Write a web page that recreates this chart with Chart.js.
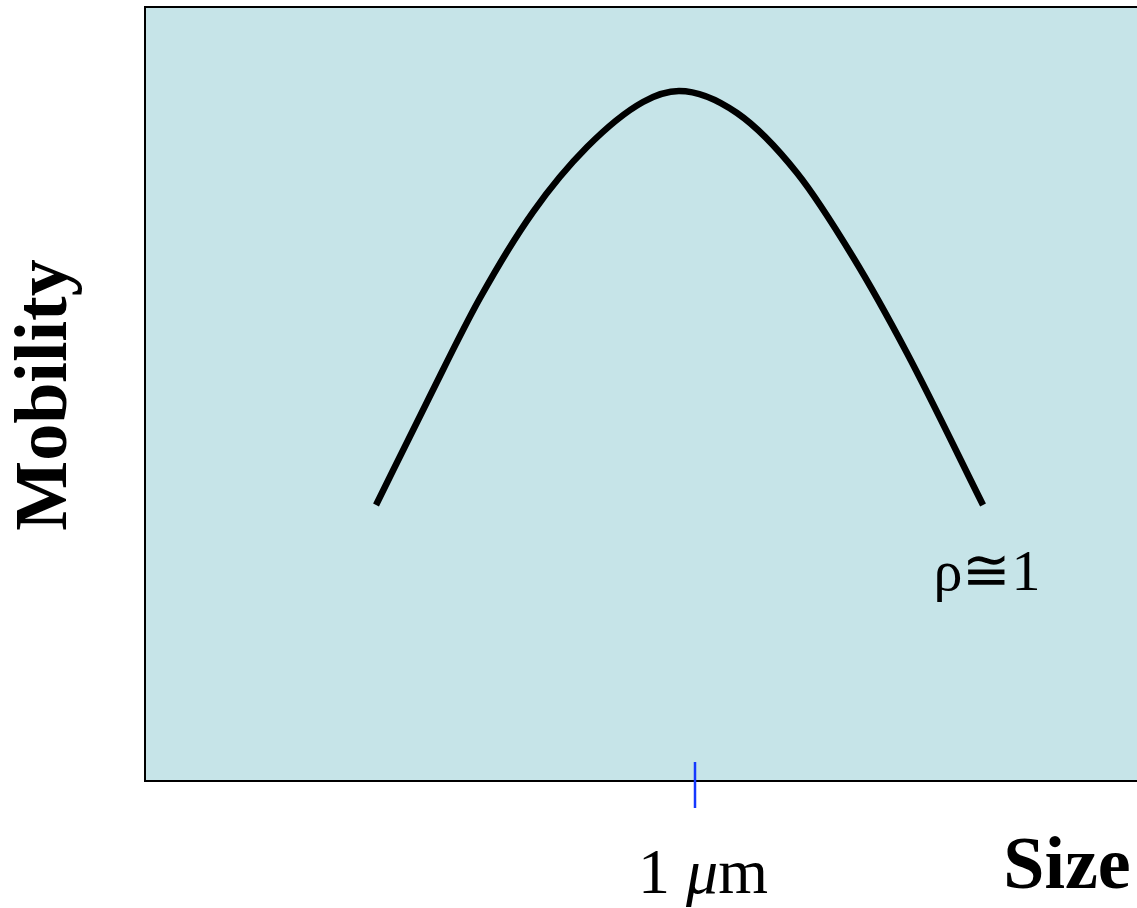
<!DOCTYPE html>
<html lang="en">
<head>
  <meta charset="UTF-8">
  <script src="https://cdn.jsdelivr.net/npm/chart.js"></script>
  <title>Mobility vs Size</title>
  <style>
    body { margin: 0; background: #fff; }
    canvas { display: block; }
  </style>
</head>
<body>
<canvas id="mobChart" width="1137" height="908"></canvas>
<script>
  // size (arbitrary units) and mobility
  const sizes    = [2.329, 2.843, 3.377, 3.911, 4.456, 5.020, 5.383, 5.968, 6.573, 7.137, 7.681, 8.448];
  const mobility = [3.566, 4.897, 6.240, 7.351, 8.191, 8.773, 8.915, 8.630, 7.855, 6.770, 5.530, 3.566];
  const tickValues = [5.54];
  const tickLabels = ['1 μm'];

  const points = sizes.map((s, i) => ({ x: s, y: mobility[i] }));

  const decor = {
    id: 'decor',
    beforeDraw(chart) {
      const { ctx, chartArea: a } = chart;
      ctx.save();
      ctx.fillStyle = '#C6E4E8';
      ctx.fillRect(a.left, a.top, a.right - a.left, a.bottom - a.top);
      ctx.restore();
    },
    afterDraw(chart) {
      const { ctx, chartArea: a, scales } = chart;
      ctx.save();
      // frame: left, top, bottom
      ctx.strokeStyle = '#000';
      ctx.lineWidth = 2;
      ctx.beginPath();
      ctx.moveTo(a.right + 2, a.top);
      ctx.lineTo(a.left, a.top);
      ctx.lineTo(a.left, a.bottom);
      ctx.lineTo(a.right + 2, a.bottom);
      ctx.stroke();

      // the single tick on the size axis
      ctx.strokeStyle = '#1538FF';
      ctx.lineWidth = 2.5;
      ctx.fillStyle = '#000';
      tickValues.forEach((v, i) => {
        const px = Math.round(scales.x.getPixelForValue(v));
        ctx.beginPath();
        ctx.moveTo(px, a.bottom - 19);
        ctx.lineTo(px, a.bottom + 27);
        ctx.stroke();
        const parts = tickLabels[i].split(' ');
        const roman = '64px "Liberation Serif", serif';
        const ital = 'italic 64px "Liberation Serif", serif';
        ctx.font = roman;
        const w1 = ctx.measureText(parts[0] + ' ').width;
        ctx.font = ital;
        const w2 = ctx.measureText(parts[1][0]).width;
        ctx.font = roman;
        const w3 = ctx.measureText(parts[1].slice(1)).width;
        const x0 = px + 8 - (w1 + w2 + w3) / 2;
        ctx.textBaseline = 'alphabetic';
        ctx.textAlign = 'left';
        ctx.fillText(parts[0] + ' ', x0, 893);
        ctx.font = ital;
        ctx.fillText(parts[1][0], x0 + w1, 893);
        ctx.font = roman;
        ctx.fillText(parts[1].slice(1), x0 + w1 + w2, 893);
      });

      // axis titles
      ctx.font = 'bold 74px "Liberation Serif", serif';
      ctx.textAlign = 'center';
      ctx.fillText('Size', 1067, 888);
      ctx.save();
      ctx.translate(66, 395);
      ctx.rotate(-Math.PI / 2);
      ctx.fillText('Mobility', 0, 0);
      ctx.restore();

      // annotation near the curve end
      ctx.font = '58px "Liberation Serif", serif';
      ctx.fillText('ρ≅1', 987, 590);
      ctx.restore();
    }
  };

  new Chart(document.getElementById('mobChart').getContext('2d'), {
    type: 'scatter',
    data: {
      datasets: [{
        data: points,
        showLine: true,
        borderColor: '#000',
        borderWidth: 6.5,
        pointRadius: 0,
        cubicInterpolationMode: 'monotone',
        borderCapStyle: 'butt'
      }]
    },
    options: {
      responsive: false,
      animation: false,
      layout: { padding: { left: 145, top: 7, right: 0, bottom: 127 } },
      plugins: { legend: { display: false }, tooltip: { enabled: false } },
      scales: {
        x: { type: 'linear', min: 0, max: 10, display: false },
        y: { type: 'linear', min: 0, max: 10, display: false }
      }
    },
    plugins: [decor]
  });
</script>
</body>
</html>
